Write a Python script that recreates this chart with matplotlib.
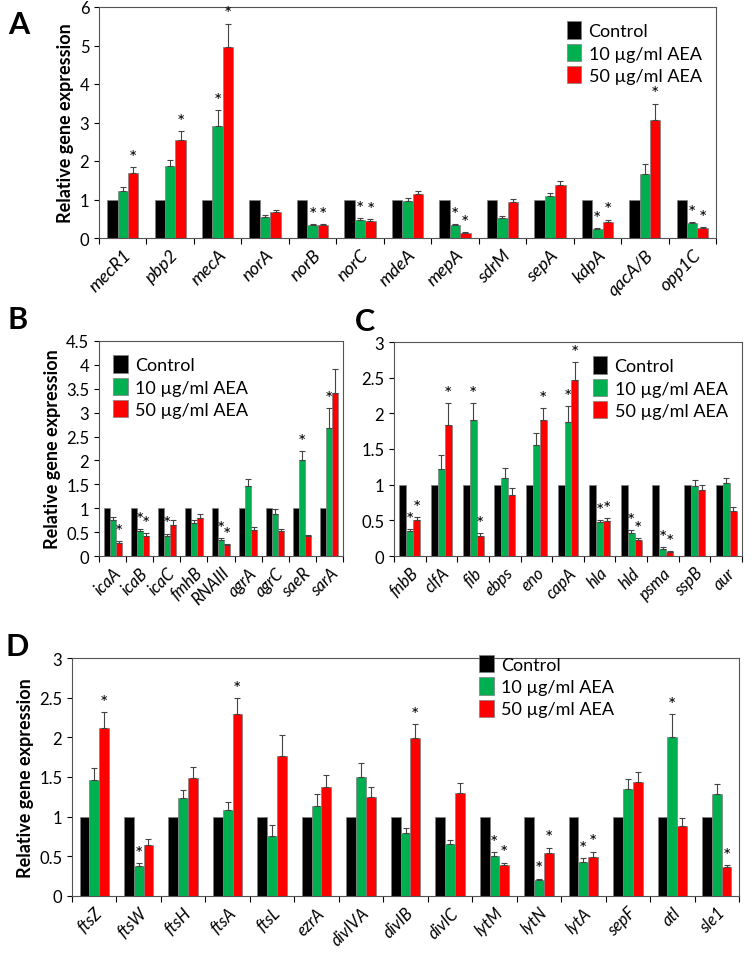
import numpy as np
import matplotlib.pyplot as plt

plt.rcParams['font.family'] = ['Lato', 'DejaVu Sans']

# Panel A
genes_a = ['mecR1', 'pbp2', 'mecA', 'norA', 'norB', 'norC', 'mdeA', 'mepA', 'sdrM', 'sepA', 'kdpA', 'qacA/B', 'opp1C']
a10 = [1.23, 1.87, 2.9, 0.55, 0.33, 0.47, 0.97, 0.33, 0.53, 1.08, 0.23, 1.65, 0.38]
a10_err = [0.1, 0.15, 0.42, 0.05, 0.03, 0.05, 0.07, 0.04, 0.04, 0.1, 0.03, 0.26, 0.04]
a50 = [1.7, 2.55, 4.95, 0.68, 0.34, 0.44, 1.13, 0.13, 0.93, 1.37, 0.42, 3.07, 0.26]
a50_err = [0.15, 0.22, 0.62, 0.05, 0.03, 0.05, 0.1, 0.03, 0.08, 0.12, 0.06, 0.42, 0.03]
a10_sig = [0, 0, 1, 0, 1, 1, 0, 1, 0, 0, 1, 0, 1]
a50_sig = [1, 1, 1, 0, 1, 1, 0, 1, 0, 0, 1, 1, 1]

# Panel B
genes_b = ['icaA', 'icaB', 'icaC', 'fmhB', 'RNAIII', 'agrA', 'agrC', 'saeR', 'sarA']
b10 = [0.75, 0.52, 0.42, 0.7, 0.33, 1.47, 0.88, 2.0, 2.67]
b10_err = [0.07, 0.05, 0.05, 0.06, 0.05, 0.15, 0.1, 0.2, 0.43]
b50 = [0.28, 0.42, 0.65, 0.8, 0.22, 0.55, 0.52, 0.42, 3.42]
b50_err = [0.03, 0.06, 0.1, 0.07, 0.03, 0.06, 0.05, 0.03, 0.5]
b10_sig = [0, 1, 1, 0, 1, 0, 0, 1, 1]
b50_sig = [1, 1, 0, 0, 1, 0, 0, 0, 0]

# Panel C
genes_c = ['fnbB', 'clfA', 'fib', 'ebps', 'eno', 'capA', 'hla', 'hld', 'psma', 'sspB', 'aur']
c10 = [0.35, 1.22, 1.9, 1.1, 1.55, 1.88, 0.47, 0.32, 0.1, 0.98, 1.02]
c10_err = [0.03, 0.2, 0.25, 0.13, 0.17, 0.22, 0.04, 0.04, 0.02, 0.08, 0.08]
c50 = [0.5, 1.84, 0.28, 0.86, 1.91, 2.47, 0.49, 0.22, 0.06, 0.92, 0.63]
c50_err = [0.05, 0.3, 0.04, 0.1, 0.17, 0.25, 0.04, 0.03, 0.01, 0.07, 0.06]
c10_sig = [1, 0, 1, 0, 0, 1, 1, 1, 1, 0, 0]
c50_sig = [1, 1, 1, 0, 1, 1, 1, 1, 1, 0, 0]

# Panel D
genes_d = ['ftsZ', 'ftsW', 'ftsH', 'ftsA', 'ftsL', 'ezrA', 'divIVA', 'divIB', 'divIC', 'lytM', 'lytN', 'lytA', 'sepF', 'atl', 'sle1']
d10 = [1.46, 0.38, 1.23, 1.08, 0.76, 1.14, 1.5, 0.8, 0.65, 0.51, 0.2, 0.43, 1.35, 2.01, 1.29]
d10_err = [0.15, 0.03, 0.1, 0.1, 0.13, 0.14, 0.18, 0.06, 0.05, 0.04, 0.02, 0.05, 0.12, 0.28, 0.12]
d50 = [2.12, 0.64, 1.49, 2.29, 1.76, 1.37, 1.25, 1.99, 1.3, 0.39, 0.54, 0.49, 1.44, 0.88, 0.36]
d50_err = [0.2, 0.08, 0.13, 0.2, 0.27, 0.15, 0.13, 0.18, 0.12, 0.03, 0.07, 0.07, 0.12, 0.1, 0.03]
d10_sig = [0, 1, 0, 0, 0, 0, 0, 0, 0, 1, 1, 1, 0, 1, 0]
d50_sig = [1, 0, 0, 1, 0, 0, 0, 1, 0, 1, 1, 1, 0, 0, 1]

labels = ['Control', '10 µg/ml AEA', '50 µg/ml AEA']
colors = ['black', '#00b050', '#ff0000']


def panel(ax, genes, v10, e10, v50, e50, s10, s50, ymax, ystep, legend_loc, ylabel=True, fs=12):
    x = np.arange(len(genes))
    w = 0.22
    ctrl = np.ones(len(genes))
    ax.bar(x - w, ctrl, w, color=colors[0], edgecolor='grey', linewidth=0.5, label=labels[0])
    ax.bar(x, v10, w, color=colors[1], edgecolor='grey', linewidth=0.5, label=labels[1],
           yerr=[np.zeros(len(genes)), e10], error_kw=dict(ecolor='#444444', elinewidth=0.8, capsize=2.5, capthick=0.8))
    ax.bar(x + w, v50, w, color=colors[2], edgecolor='grey', linewidth=0.5, label=labels[2],
           yerr=[np.zeros(len(genes)), e50], error_kw=dict(ecolor='#444444', elinewidth=0.8, capsize=2.5, capthick=0.8))
    off = ymax * 0.005
    for i in range(len(genes)):
        if s10[i]:
            ax.text(x[i], v10[i] + e10[i] + off, '*', ha='center', va='bottom', fontsize=14)
        if s50[i]:
            ax.text(x[i] + w, v50[i] + e50[i] + off, '*', ha='center', va='bottom', fontsize=14)
    ax.set_xlim(-0.5, len(genes) - 0.5)
    ax.set_ylim(0, ymax)
    ticks = np.arange(0, ymax + 1e-9, ystep)
    ax.set_yticks(ticks)
    ax.set_yticklabels([f'{t:g}' for t in ticks], fontsize=12)
    ax.set_xticks(np.arange(-0.5, len(genes), 1))
    ax.set_xticklabels([])
    ax.set_xticks(x, minor=True)
    ax.set_xticklabels(genes, minor=True, rotation=45, ha='right', rotation_mode='anchor',
                       fontstyle='italic', fontsize=fs)
    ax.tick_params(axis='x', which='minor', length=0, pad=6)
    ax.tick_params(axis='x', which='major', length=4)
    if ylabel:
        ax.set_ylabel('Relative gene expression', fontsize=13, fontweight='bold', labelpad=4)
    for s in ax.spines.values():
        s.set_color('#555555')
    ax.legend(loc=legend_loc, frameon=False, fontsize=13, handlelength=0.8,
              handleheight=1.1, borderaxespad=0.4, labelspacing=0.25, handletextpad=0.4)


fig = plt.figure(figsize=(7.55, 9.54), dpi=100)
W, H = 755, 954


def add(l, t, r, b):
    return fig.add_axes([l / W, 1 - b / H, (r - l) / W, (b - t) / H])


axA = add(99, 8, 716, 239)
panel(axA, genes_a, a10, a10_err, a50, a50_err, a10_sig, a50_sig, 6, 1, 'upper right', fs=13)
axB = add(99, 342, 343, 557)
panel(axB, genes_b, b10, b10_err, b50, b50_err, b10_sig, b50_sig, 4.5, 0.5, 'upper left')
axC = add(394, 343, 742, 557)
panel(axC, genes_c, c10, c10_err, c50, c50_err, c10_sig, c50_sig, 3, 0.5, 'upper right', ylabel=False)
axD = add(72, 659, 739, 897)
panel(axD, genes_d, d10, d10_err, d50, d50_err, d10_sig, d50_sig, 3, 0.5, (0.6, 0.72))

for lab, (px, py) in zip('ABCD', [(8, 25), (8, 320), (355, 322), (6, 647)]):
    fig.text(px / W, 1 - py / H, lab, fontsize=22, fontweight='bold', va='center')

fig.savefig('out.png', dpi=100)
